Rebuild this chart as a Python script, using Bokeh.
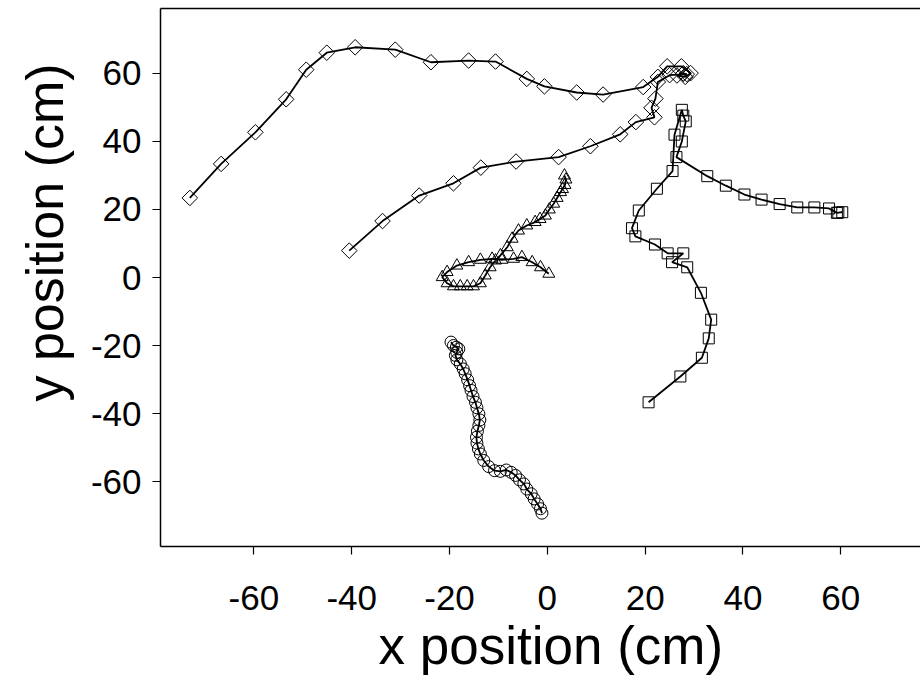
import math
from bokeh.plotting import figure
from bokeh.models import (Range1d, FixedTicker, LinearAxis, Title, ColumnDataSource,
                          PrintfTickFormatter)
from bokeh.embed import file_html
from bokeh.resources import INLINE

# ---- data (cm) ----
diamond_a_x = [-73.1, -66.7, -59.7, -53.4, -49.3, -45.1, -39.3, -31.1, -23.8, -16.1, -10.6, -4.2,
               -0.6, 6.0, 11.4, 19.6, 22.6, 24.5, 27.4, 29.3, 28.2, 26.5, 27.8]
diamond_a_y = [23.4, 33.4, 42.7, 52.4, 61.1, 66.1, 67.7, 67.0, 63.3, 63.8, 63.5, 58.4,
               56.2, 54.4, 53.8, 56.0, 59.0, 62.1, 62.1, 60.1, 59.0, 59.4, 60.0]

diamond_b_x = [-40.5, -33.7, -26.2, -19.2, -13.6, -6.4, 2.3, 8.8, 14.9, 18.1, 21.9, 21.3,
               22.1, 22.6, 25.0, 28.5, 27.8]
diamond_b_y = [7.9, 16.6, 24.1, 27.7, 32.3, 34.1, 35.4, 38.6, 42.1, 45.7, 47.1, 49.9,
               52.6, 57.5, 59.5, 59.8, 60.0]

square_x = [20.7, 27.2, 31.6, 33.0, 33.5, 31.4, 28.6, 25.5, 27.8, 24.6, 22.0, 18.0, 17.3,
            18.7, 22.4, 25.6, 26.0, 27.5, 27.8, 28.3, 27.5, 26.4, 32.7, 36.5, 40.3, 43.8,
            47.5, 51.1, 54.6, 57.6, 59.2, 60.3, 59.5]
square_y = [-36.7, -29.1, -23.6, -17.9, -12.4, -4.5, 3.0, 4.5, 7.1, 7.1, 9.7, 12.1, 14.5,
            19.7, 26.1, 31.3, 42.0, 49.3, 47.6, 45.9, 40.0, 35.4, 29.8, 27.0, 24.4, 22.9,
            21.6, 20.6, 20.6, 20.3, 19.0, 19.2, 19.1]

triangle_x = [3.5, 3.8, 3.6, 3.1, 2.7, 2.0, 1.3, 0.4, -0.4, -1.5, -2.5, -4.2, -5.9, -7.2,
              -8.2, -9.6, -10.6, -11.7, -12.7, -13.7, -15.1, -16.4, -17.8, -19.2, -20.5,
              -21.5, -20.5, -18.5, -16.1, -13.7, -11.3, -9.3, -6.9, -5.2, -3.1, -1.4, 0.3]
triangle_y = [30.0, 28.8, 27.2, 26.0, 25.1, 23.4, 21.7, 20.0, 18.2, 17.2, 16.3, 15.3, 13.8,
              11.4, 8.9, 6.5, 5.0, 3.0, 0.6, -1.7, -2.6, -2.6, -2.6, -2.6, -1.7, 0.1, 1.6,
              3.5, 4.5, 5.2, 5.5, 5.2, 5.5, 6.0, 4.5, 3.0, 1.1]

circle_x = [-19.7, -19.2, -18.6, -18.1, -18.5, -18.8, -18.5, -17.8, -17.2, -16.8, -16.3,
            -15.9, -15.6, -15.2, -14.7, -14.4, -14.0, -13.8, -14.0, -14.3, -14.5, -14.4,
            -14.1, -13.7, -13.0, -12.0, -10.8, -9.6, -8.4, -7.4, -6.5, -5.7, -4.8, -4.2,
            -3.3, -2.7, -2.0, -1.4, -1.1]
circle_y = [-19.0, -20.0, -20.5, -21.0, -22.0, -22.9, -24.2, -25.4, -26.9, -28.3, -30.1,
            -31.8, -33.2, -35.0, -36.7, -38.3, -40.1, -41.9, -43.5, -45.2, -47.0, -48.7,
            -50.4, -51.9, -53.8, -55.6, -56.8, -57.0, -56.6, -57.3, -58.2, -59.5, -60.7,
            -62.2, -63.6, -65.1, -66.6, -68.0, -69.3]

tick_values = [-60, -40, -20, 0, 20, 40, 60]
x_title = "x position (cm)"
y_title = "y position (cm)"

FONT = "Liberation Sans"

p = figure(width=920, height=693,
           x_range=Range1d(-79.1, 76.3), y_range=Range1d(-79.1, 79.1),
           output_backend="svg", toolbar_location=None,
           min_border_left=160, min_border_right=0, min_border_top=8, min_border_bottom=147)
p.grid.visible = False
p.outline_line_color = None
p.background_fill_color = "white"
p.border_fill_color = "white"

tracks = [
    (diamond_a_x, diamond_a_y, "square", 11, math.pi / 4),
    (diamond_b_x, diamond_b_y, "square", 11, math.pi / 4),
    (square_x, square_y, "square", 11, 0),
    (triangle_x, triangle_y, "triangle", 12, 0),
    (circle_x, circle_y, "circle", 12, 0),
]
for xs, ys, marker, size, ang in tracks:
    src = ColumnDataSource(dict(x=xs, y=ys))
    p.line("x", "y", source=src, line_color="black", line_width=1.8)
    p.scatter("x", "y", source=src, marker=marker, size=size, angle=ang,
              fill_alpha=0, line_color="black", line_width=1)

for ax in (p.xaxis[0], p.yaxis[0]):
    ax.ticker = FixedTicker(ticks=tick_values)
    ax.formatter = PrintfTickFormatter(format="%d")
    ax.minor_tick_line_color = None
    ax.major_tick_in = 0
    ax.major_tick_out = 8
    ax.axis_line_width = 1.5
    ax.major_tick_line_width = 1.2
    ax.major_label_text_font = FONT
    ax.major_label_text_font_size = "35px"
    ax.major_label_text_color = "black"

p.xaxis[0].major_label_standoff = 31
p.yaxis[0].major_label_standoff = 11

top = LinearAxis(ticker=FixedTicker(ticks=[]), axis_line_width=1.5,
                 major_tick_line_color=None, minor_tick_line_color=None,
                 major_label_text_font_size="0px")
p.add_layout(top, "above")

xlab = Title(text=x_title, align="left", offset=218, vertical_align="middle", standoff=4,
             text_font=FONT, text_font_size="53px", text_font_style="normal",
             text_color="black")
p.add_layout(xlab, "below")

ylab = Title(text=y_title, align="left", offset=145, vertical_align="top", standoff=24,
             text_font=FONT, text_font_size="52px", text_font_style="normal",
             text_color="black")
p.add_layout(ylab, "left")

open("out.html", "w").write(file_html(p, INLINE))
